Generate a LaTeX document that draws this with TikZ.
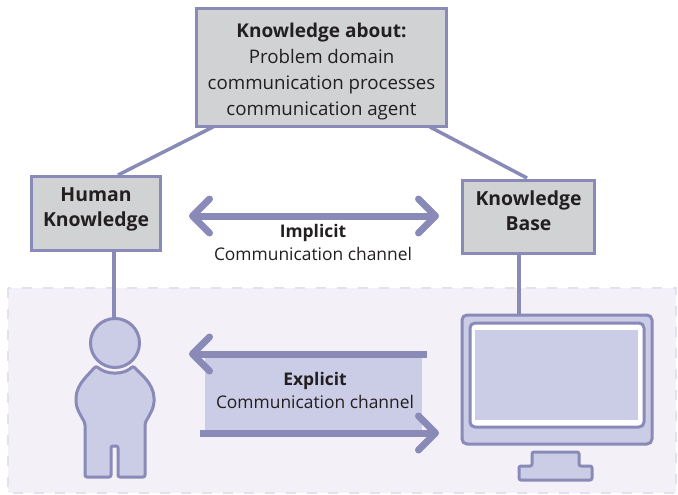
\documentclass[tikz,border=0pt]{standalone}
\usepackage{fontspec}
\setmainfont{Open Sans}
\usetikzlibrary{arrows.meta}
\definecolor{linecol}{HTML}{8A8AB8}
\definecolor{fillcol}{HTML}{CBCCE6}
\definecolor{boxcol}{HTML}{D1D2D4}
\definecolor{zonecol}{HTML}{F3F0F7}
\definecolor{dashcol}{HTML}{E3E1EE}
\definecolor{textcol}{HTML}{231F20}
\tikzset{
  knowbox/.style={draw=linecol,fill=boxcol,line width=3pt,inner sep=0pt,align=center,text=textcol},
  label/.style={inner sep=0pt,align=center,text=textcol,font=\fontsize{17.4}{23}\selectfont},
  link/.style={draw=linecol,line width=3.5pt},
  part/.style={draw=linecol,fill=fillcol,line width=3pt,rounded corners=2pt,line join=round},
  barb/.tip={Straight Barb[length=17pt,width=34pt,line width=7pt,round]},
  channel/.style={draw=linecol,line width=7pt,-barb},
}
\begin{document}
\begin{tikzpicture}[x=1pt,y=-1pt]
\useasboundingbox (0,0) rectangle (678,495);
\fill[zonecol] (8,288) rectangle (676,493);
\draw[dashcol,line width=2.5pt,dash pattern=on 10pt off 11pt] (8,288) rectangle (676,493);
\node[knowbox,minimum width=250pt,minimum height=118pt,font=\fontsize{18.7}{26}\selectfont] (about) at (321.5,67.5) {\rule{0pt}{22pt}\textbf{\fontsize{19}{26}\selectfont Knowledge about:}\\Problem domain\\communication processes\\communication agent};
\node[knowbox,minimum width=129pt,minimum height=74pt,font=\bfseries\fontsize{19.4}{24.5}\selectfont,text depth=13pt] (human) at (96,213.5) {Human\\Knowledge};
\node[knowbox,minimum width=132pt,minimum height=73pt,font=\bfseries\fontsize{19.4}{25.5}\selectfont,text depth=12pt] (base) at (528.5,216.5) {Knowledge\\Base};
\coordinate (aboutl) at (213,127);
\coordinate (aboutr) at (430,127);
\coordinate (humant) at (118,175);
\coordinate (baset) at (527,178);
\coordinate (humanb) at (114,251);
\coordinate (baseb) at (519,253);
\coordinate (headt) at (114,320);
\coordinate (monitort) at (519,315);
\draw[link] (aboutl) -- (humant);
\draw[link] (aboutr) -- (baset);
\draw[link] (humanb) -- (headt);
\draw[link] (baseb) -- (monitort);
% person
\node[part,circle,minimum size=49pt,inner sep=0pt] (head) at (115,343) {};
\draw[part] (96,366) .. controls (102,371) and (108,373) .. (115,373) .. controls (122,373) and (128,371) .. (133,366)
  -- (145,378) .. controls (150,384) and (154,391) .. (154,400) .. controls (154,408) and (149,416) .. (145,423)
  -- (145,477) -- (118,477) -- (118,446) -- (111,446) -- (111,477) -- (85,477) -- (85,423)
  .. controls (81,416) and (76,408) .. (76,400) .. controls (76,391) and (80,384) .. (85,378) -- cycle;
% monitor
\draw[part] (532,466) -- (532,452) -- (579,452) -- (579,466) -- (592,466) -- (592,480) -- (519,480) -- (519,466) -- cycle;
\draw[part,rounded corners=5pt] (462,315) rectangle (652,444);
\draw[part,fill=white,rounded corners=5pt] (470,323) rectangle (644,427);
\fill[fillcol] (475,330) rectangle (638,420);
% channels
\fill[fillcol] (205,354) rectangle (422,433);
\coordinate (impl) at (189,216);
\coordinate (impr) at (439,216);
\coordinate (expus) at (427,354);
\coordinate (expue) at (189,354);
\coordinate (expls) at (200,433);
\coordinate (exple) at (439,433);
\draw[channel] (expus) -- (expue);
\draw[channel] (expls) -- (exple);
\draw[channel,barb-barb] (impl) -- (impr);
\node[label] (implicit) at (313,242) {\textbf{Implicit}\\Communication channel};
\node[label] (explicit) at (315,390) {\textbf{Explicit}\\Communication channel};
\end{tikzpicture}
\end{document}
